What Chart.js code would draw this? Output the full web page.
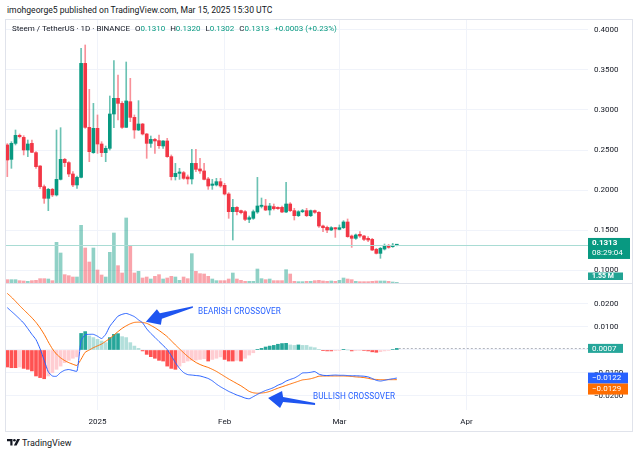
<!DOCTYPE html>
<html>
<head>
<meta charset="utf-8">
<script src="https://cdn.jsdelivr.net/npm/chart.js@4.4.1/dist/chart.umd.min.js"></script>
<style>
html,body{margin:0;padding:0;background:#fff;}
body{width:640px;height:455px;position:relative;overflow:hidden;font-family:Roboto,"Liberation Sans",Arial,sans-serif;color:#131722;}
#frame{position:absolute;left:5px;top:19px;width:628px;height:413px;border:1px solid #E0E3EB;box-sizing:border-box;}
#sep{position:absolute;left:5px;top:283px;width:628px;height:1px;background:#E0E3EB;}
.pane{position:absolute;left:6px;width:626px;}
#p1{top:20px;height:263px;}
#p2{top:284px;height:147px;}
.txt{position:absolute;white-space:nowrap;z-index:5;}
#head{left:7px;top:4px;font-size:8.6px;line-height:12px;color:#131722;}
#legend{left:12px;top:23px;font-size:8px;line-height:12px;color:#131722;}
#legend span{margin-left:5px;}
#legend b{font-weight:normal;color:#089981;}
.note{font-size:8.2px;line-height:11px;color:#2962FF;letter-spacing:0.1px;}
#bear{left:198px;top:306px;}
#bull{left:313px;top:391px;}
#foot{left:22px;top:437px;font-size:9px;line-height:12px;color:#131722;}
#logo{position:absolute;left:7px;top:439px;}
</style>
</head>
<body>
<div id="frame"></div>
<div id="sep"></div>
<div class="pane" id="p1"><canvas id="price"></canvas></div>
<div class="pane" id="p2"><canvas id="macd"></canvas></div>
<div class="txt" id="head">imohgeorge5 published on TradingView.com, Mar 15, 2025 15:30 UTC</div>
<div class="txt" id="legend"></div>
<div class="txt note" id="bear">BEARISH CROSSOVER</div>
<div class="txt note" id="bull">BULLISH CROSSOVER</div>
<svg id="logo" width="14" height="7" viewBox="0 0 14 7"><path d="M0 0H5.5V6.5H3.3V2.2H0Z" fill="#131722"/><circle cx="7.4" cy="1.3" r="1.3" fill="#131722"/><path d="M10.2 0H13L9.6 6.5H6.9Z" fill="#131722"/></svg>
<div class="txt" id="foot">TradingView</div>
<script>
// STEEM/USDT daily, 2024-12-10 .. 2025-03-15 (index 0 = Dec 10)
const opens = [.2563,.2383,.2583,.2683,.2658,.2500,.2583,.2467,.2300,.2042,
  .1896,.2008,.1938,.2133,.2383,.2342,.2200,.2063,.2158,.3583,
  .2783,.2467,.2771,.2575,.2467,.2521,.2950,.3146,.3083,.2783,
  .3104,.2908,.2750,.2825,.2700,.2583,.2633,.2617,.2550,.2613,
  .2417,.2167,.2208,.2217,.2163,.2138,.2333,.2263,.2238,.2138,
  .2058,.2063,.2104,.2058,.1950,.1729,.1783,.1742,.1729,.1633,
  .1646,.1725,.1795,.1800,.1750,.1792,.1783,.1783,.1725,.1825,
  .1742,.1679,.1729,.1742,.1679,.1742,.1721,.1550,.1533,.1500,
  .1529,.1508,.1529,.1600,.1425,.1396,.1446,.1425,.1396,.1383,
  .1258,.1208,.1262,.1304,.1292,.1310];
const highs = [.2580,.2604,.2750,.2700,.2679,.2625,.2625,.2479,.2304,.2063,
  .2021,.2021,.2750,.2779,.2396,.2354,.2229,.2175,.3771,.3813,
  .3258,.3083,.2938,.2604,.2550,.3175,.3617,.3438,.3104,.3600,
  .3396,.2938,.3117,.2833,.2708,.2675,.2646,.2688,.2617,.2646,
  .2438,.2333,.2271,.2233,.2188,.2508,.2508,.2396,.2333,.2158,
  .2133,.2146,.2146,.2083,.1967,.1883,.1792,.1750,.1742,.1675,
  .1750,.2158,.1900,.1883,.1833,.1825,.1790,.1800,.2096,.1842,
  .1771,.1742,.1758,.1771,.1750,.1750,.1729,.1563,.1550,.1542,
  .1533,.1563,.1617,.1638,.1438,.1450,.1479,.1433,.1417,.1396,
  .1271,.1283,.1325,.1321,.1333,.1320];
const lows = [.2167,.2271,.2563,.2650,.2438,.2417,.2467,.2271,.2021,.1833,
  .1742,.1917,.1925,.2125,.2292,.2167,.2042,.2021,.2150,.2771,
  .2354,.2458,.2458,.2417,.2354,.2500,.2779,.2875,.2771,.2783,
  .2854,.2646,.2742,.2688,.2396,.2533,.2458,.2521,.2521,.2408,
  .2125,.2125,.2133,.2133,.2075,.2075,.2229,.2208,.2125,.2008,
  .2008,.2050,.2033,.1938,.1646,.1375,.1688,.1700,.1617,.1592,
  .1633,.1708,.1775,.1742,.1688,.1750,.1758,.1717,.1717,.1729,
  .1625,.1667,.1717,.1667,.1667,.1708,.1533,.1479,.1467,.1492,
  .1408,.1500,.1517,.1408,.1283,.1383,.1408,.1367,.1354,.1242,
  .1200,.1146,.1250,.1271,.1283,.1302];
const closes = [.2375,.2583,.2683,.2667,.2500,.2575,.2471,.2292,.2042,.1896,
  .2008,.1938,.2133,.2383,.2342,.2200,.2063,.2158,.3583,.2783,
  .2479,.2771,.2575,.2467,.2521,.2950,.3146,.3083,.2783,.3113,
  .2908,.2750,.2825,.2700,.2583,.2633,.2613,.2554,.2613,.2417,
  .2167,.2208,.2225,.2146,.2138,.2333,.2258,.2238,.2133,.2050,
  .2075,.2104,.2050,.1950,.1729,.1783,.1729,.1717,.1633,.1654,
  .1729,.1800,.1810,.1750,.1800,.1767,.1767,.1725,.1825,.1742,
  .1679,.1729,.1742,.1679,.1742,.1721,.1550,.1529,.1500,.1529,
  .1513,.1529,.1600,.1417,.1396,.1438,.1425,.1383,.1375,.1250,
  .1208,.1271,.1304,.1283,.1310,.1313];
// volume, millions
const volumes = [7.7,7.7,7.7,5.4,4.6,3.8,5.4,6.1,10,10,
  9.2,5.4,93.6,69,19.2,16.9,13.8,13.8,132.7,80.5,
  48.3,80.5,29.9,18.4,13.8,70.6,115,39.9,23,149.6,
  84.4,23,26.8,11.5,13.8,9.2,15.3,19.2,9.2,11.5,
  15.3,13.8,6.1,13.8,10,67.5,26.8,21.5,20.7,15.3,
  9.2,5.4,5.4,5.4,9.2,23,9.2,6.1,3.8,3.8,
  3.8,32.2,10,7.7,9.2,5.4,5.4,5.4,30.7,20.7,
  3.8,3.1,3.1,3.8,3.8,5.4,6.1,4.6,3.8,4.6,
  3.8,6.1,11.5,9.2,7.7,3.8,3.1,3.1,3.1,3.8,
  4.6,4.6,4.6,3.8,2.3,1.55];
const macdLine = [.0184,.0168,.0152,.0135,.0117,.0093,.0068,.0045,.0005,-.0045,
  -.0095,-.0113,-.0114,-.0098,-.0088,-.0085,-.0089,-.0092,.0040,.0066,
  .0068,.0068,.0060,.0050,.0068,.0103,.0126,.0147,.0155,.0159,
  .0153,.0145,.0131,.0118,.0092,.0072,.0055,.0037,.0020,.0002,
  -.0025,-.0055,-.0080,-.0098,-.0107,-.0109,-.0111,-.0113,-.0118,-.0124,
  -.0134,-.0148,-.0160,-.0170,-.0180,-.0188,-.0196,-.0202,-.0209,-.0212,
  -.0203,-.0193,-.0184,-.0176,-.0170,-.0163,-.0153,-.0146,-.0135,-.0128,
  -.0122,-.0112,-.0100,-.0099,-.0097,-.0094,-.0105,-.0110,-.0111,-.0110,
  -.0109,-.0110,-.0110,-.0111,-.0112,-.0112,-.0113,-.0114,-.0117,-.0124,
  -.0132,-.0135,-.0132,-.0128,-.0125,-.0122];
const signalLine = [.0246,.0230,.0212,.0193,.0175,.0158,.0140,.0120,.0096,.0068,
  .0035,.0005,-.0018,-.0034,-.0046,-.0055,-.0062,-.0067,-.0040,-.0010,
  .0000,.0010,.0018,.0026,.0038,.0050,.0065,.0080,.0094,.0105,
  .0114,.0120,.0121,.0120,.0116,.0107,.0097,.0085,.0072,.0058,
  .0040,.0022,.0005,-.0012,-.0028,-.0042,-.0054,-.0063,-.0070,-.0076,
  -.0084,-.0093,-.0104,-.0115,-.0126,-.0136,-.0146,-.0156,-.0168,-.0180,
  -.0186,-.0188,-.0187,-.0185,-.0180,-.0173,-.0166,-.0160,-.0154,-.0148,
  -.0142,-.0136,-.0130,-.0128,-.0125,-.0120,-.0114,-.0113,-.0113,-.0113,
  -.0113,-.0113,-.0113,-.0114,-.0115,-.0117,-.0118,-.0120,-.0123,-.0127,
  -.0128,-.0129,-.0129,-.0129,-.0129,-.0129];
const histogram = [-.0074,-.0077,-.0077,-.0074,-.0080,-.0084,-.0091,-.0113,-.0120,-.0125,
  -.0113,-.0099,-.0084,-.0070,-.0055,-.0045,-.0036,-.0030,.0072,.0080,
  .0061,.0054,.0046,.0039,.0032,.0054,.0068,.0071,.0058,.0054,
  .0032,.0017,.0007,-.0004,-.0019,-.0029,-.0036,-.0045,-.0048,-.0070,
  -.0080,-.0084,-.0070,-.0055,-.0048,-.0045,-.0044,-.0041,-.0038,-.0048,
  -.0041,-.0036,-.0030,-.0041,-.0048,-.0048,-.0045,-.0048,-.0036,-.0022,
  -.0012,.0003,.0007,.0013,.0017,.0020,.0025,.0028,.0029,.0022,
  .0020,.0022,.0020,.0020,.0013,.0010,.0003,-.0003,-.0004,-.0004,
  -.0003,-.0002,.0003,.0000,-.0004,-.0003,-.0002,-.0002,-.0004,-.0008,
  -.0010,-.0007,-.0004,-.0002,.0002,.0007];
const monthTicks = [22, 53, 81, 112];
const monthLabels = ['2025', 'Feb', 'Mar', 'Apr'];
const priceTicks = [0.10, 0.15, 0.20, 0.25, 0.30, 0.35, 0.40];
const macdTicks = [-0.02, -0.01, 0, 0.01, 0.02];

const XMIN = -0.317, XMAX = 141.63;
const GREEN = '#089981', RED = '#F23645';
const GRID = '#F0F3FA';
const FONT = 'Roboto, "Liberation Sans", Arial, sans-serif';
const fmt = v => (v < 0 ? '\u2212' : '') + Math.abs(v).toFixed(4);
const up = i => closes[i] >= opens[i];
const last = closes.length - 1;

// legend line
const pct = (closes[last] - closes[last - 1]) / closes[last - 1] * 100;
document.getElementById('legend').innerHTML =
  'Steem / TetherUS \u00b7 1D \u00b7 BINANCE' +
  '<span>O<b>' + opens[last].toFixed(4) + '</b></span>' +
  '<span>H<b>' + highs[last].toFixed(4) + '</b></span>' +
  '<span>L<b>' + lows[last].toFixed(4) + '</b></span>' +
  '<span>C<b>' + closes[last].toFixed(4) + '</b></span>' +
  '<span><b>+' + (closes[last] - closes[last - 1]).toFixed(4) + ' (+' + pct.toFixed(2) + '%)</b></span>';

function box(ctx, x, y, w, h, bg, lines) {
  ctx.fillStyle = bg;
  ctx.fillRect(x, y, w, h);
  ctx.fillStyle = '#fff';
  ctx.textBaseline = 'middle';
  ctx.textAlign = 'left';
  lines.forEach(l => { ctx.font = l.font; ctx.fillText(l.t, x + 4, y + l.dy); });
}

// keep the plot area exactly where the panes are: no label padding
function fixSide(s) { s.width = 44; s.paddingTop = 0; s.paddingBottom = 0; }

function xAxis(showLabels) {
  return {
    type: 'linear', min: XMIN, max: XMAX, offset: false,
    afterBuildTicks: s => { s.ticks = monthTicks.map(v => ({ value: v })); },
    afterFit: s => { s.height = showLabels ? 21 : 0; s.paddingLeft = 0; s.paddingRight = 0; },
    grid: { color: GRID, drawTicks: false, offset: false },
    border: { display: false },
    ticks: {
      display: showLabels, autoSkip: false, maxRotation: 0, padding: 7,
      color: '#131722', font: { family: FONT, size: 8 },
      callback: v => monthLabels[monthTicks.indexOf(v)]
    }
  };
}

const priceMarks = {
  id: 'priceMarks',
  afterDatasetsDraw(chart) {
    const { ctx, chartArea: a, scales } = chart;
    const py = Math.round(scales.y.getPixelForValue(closes[last])) + 0.5;
    ctx.save();
    ctx.strokeStyle = '#A9DCD4';
    ctx.lineWidth = 1;
    ctx.beginPath(); ctx.moveTo(a.left, py); ctx.lineTo(a.right, py); ctx.stroke();
    ctx.restore();
  },
  afterDraw(chart) {
    const { ctx, chartArea: a, scales } = chart;
    const py = scales.y.getPixelForValue(closes[last]);
    ctx.save();
    box(ctx, a.right, py - 7, 42, 21, GREEN, [
      { t: closes[last].toFixed(4), dy: 5, font: 'bold 8px ' + FONT },
      { t: '08:29:04', dy: 15.5, font: '8px ' + FONT }
    ]);
    box(ctx, a.right, a.bottom - 10.5, 35, 7.5, '#22A393', [
      { t: volumes[last].toFixed(2) + ' M', dy: 4, font: 'bold 7px ' + FONT }
    ]);
    ctx.restore();
  }
};

new Chart(document.getElementById('price'), {
  type: 'bar',
  data: {
    datasets: [
      {
        label: 'Volume', yAxisID: 'yv', order: 3, grouped: false, barThickness: 3,
        data: volumes.map((v, i) => ({ x: i, y: v })),
        backgroundColor: c => up(c.dataIndex) ? 'rgba(8,153,129,0.45)' : 'rgba(242,54,69,0.45)'
      },
      {
        label: 'Wick', yAxisID: 'y', order: 2, grouped: false, barThickness: 1,
        data: lows.map((l, i) => ({ x: i, y: [l, highs[i]] })),
        backgroundColor: c => up(c.dataIndex) ? 'rgba(8,153,129,0.6)' : 'rgba(242,54,69,0.55)'
      },
      {
        label: 'Body', yAxisID: 'y', order: 1, grouped: false, barThickness: 3, minBarLength: 1,
        data: opens.map((o, i) => ({ x: i, y: [o, closes[i]] })),
        backgroundColor: c => up(c.dataIndex) ? GREEN : RED
      }
    ]
  },
  options: {
    animation: false, responsive: true, maintainAspectRatio: false, events: [],
    layout: { padding: 0 },
    plugins: { legend: { display: false }, tooltip: { enabled: false } },
    scales: {
      x: xAxis(false),
      y: {
        position: 'right', min: 0.08375, max: 0.4125,
        afterBuildTicks: s => { s.ticks = priceTicks.map(v => ({ value: v })); },
        afterFit: fixSide,
        grid: { color: GRID, drawTicks: false },
        border: { display: false },
        ticks: { padding: 6, color: '#131722', font: { family: FONT, size: 8 }, callback: v => v.toFixed(4) }
      },
      yv: { display: false, min: 0, max: 605 }
    }
  },
  plugins: [priceMarks]
});

function arrow(ctx, pts) {
  ctx.fillStyle = '#1F55F0';
  ctx.beginPath();
  pts.forEach((p, k) => k ? ctx.lineTo(p[0], p[1]) : ctx.moveTo(p[0], p[1]));
  ctx.closePath();
  ctx.fill();
}

const macdMarks = {
  id: 'macdMarks',
  afterDatasetsDraw(chart) {
    const { ctx, chartArea: a, scales } = chart;
    const x = scales.x, y = scales.y;
    ctx.save();
    // last histogram value line
    const hy = Math.round(y.getPixelForValue(histogram[last])) + 0.5;
    ctx.strokeStyle = '#B2B5BE';
    ctx.setLineDash([2, 2]);
    ctx.beginPath(); ctx.moveTo(x.getPixelForValue(last) + 2, hy); ctx.lineTo(a.right, hy); ctx.stroke();
    ctx.setLineDash([]);
    // bearish crossover arrow (tip at the crossing)
    let tx = x.getPixelForValue(33.8), ty = y.getPixelForValue(0.0123);
    arrow(ctx, [[tx, ty], [tx + 11, ty - 12.5], [tx + 14, ty - 8.5], [tx + 47, ty - 15.5], [tx + 47, ty - 14], [tx + 16, ty - 3], [tx + 15, ty + 3]]);
    // bullish crossover arrow
    tx = x.getPixelForValue(63.6); ty = y.getPixelForValue(-0.0209);
    arrow(ctx, [[tx, ty], [tx + 14, ty - 7], [tx + 15, ty - 1], [tx + 47, ty + 5], [tx + 47, ty + 7], [tx + 15, ty + 4], [tx + 12, ty + 10]]);
    ctx.restore();
  },
  afterDraw(chart) {
    const { ctx, chartArea: a, scales } = chart;
    const y = scales.y;
    ctx.save();
    const f = '8px ' + FONT;
    const hy = y.getPixelForValue(histogram[last]);
    box(ctx, a.right, hy - 4.5, 35, 9, '#26A69A', [{ t: fmt(histogram[last]), dy: 4.7, font: f }]);
    const my = y.getPixelForValue(macdLine[last]);
    box(ctx, a.right, my - 5.5, 40, 11, '#2962FF', [{ t: fmt(macdLine[last]), dy: 5.7, font: f }]);
    box(ctx, a.right, my + 5.5, 40, 11, '#FF6D00', [{ t: fmt(signalLine[last]), dy: 5.7, font: f }]);
    ctx.restore();
  }
};

new Chart(document.getElementById('macd'), {
  type: 'bar',
  data: {
    datasets: [
      {
        type: 'line', label: 'MACD', order: 1, data: macdLine.map((v, i) => ({ x: i, y: v })),
        borderColor: '#2962FF', borderWidth: 1, pointRadius: 0, tension: 0.2
      },
      {
        type: 'line', label: 'Signal', order: 2, data: signalLine.map((v, i) => ({ x: i, y: v })),
        borderColor: '#FF6D00', borderWidth: 1, pointRadius: 0, tension: 0.2
      },
      {
        label: 'Histogram', order: 3, grouped: false, barThickness: 3,
        data: histogram.map((v, i) => ({ x: i, y: v })),
        backgroundColor: c => {
          const i = c.dataIndex, v = histogram[i], p = i ? histogram[i - 1] : v;
          if (v >= 0) return v > p ? '#26A69A' : '#B2DFDB';
          return v > p ? '#FFCDD2' : '#FF5252';
        }
      }
    ]
  },
  options: {
    animation: false, responsive: true, maintainAspectRatio: false, events: [],
    layout: { padding: { top: 1 } },
    plugins: { legend: { display: false }, tooltip: { enabled: false } },
    scales: {
      x: xAxis(true),
      y: {
        position: 'right', min: -0.02609, max: 0.02826,
        afterBuildTicks: s => { s.ticks = macdTicks.map(v => ({ value: v })); },
        afterFit: fixSide,
        grid: { color: GRID, drawTicks: false },
        border: { display: false },
        ticks: { padding: 6, color: '#131722', font: { family: FONT, size: 8 }, callback: v => fmt(v) }
      }
    }
  },
  plugins: [macdMarks]
});
</script>
</body>
</html>
